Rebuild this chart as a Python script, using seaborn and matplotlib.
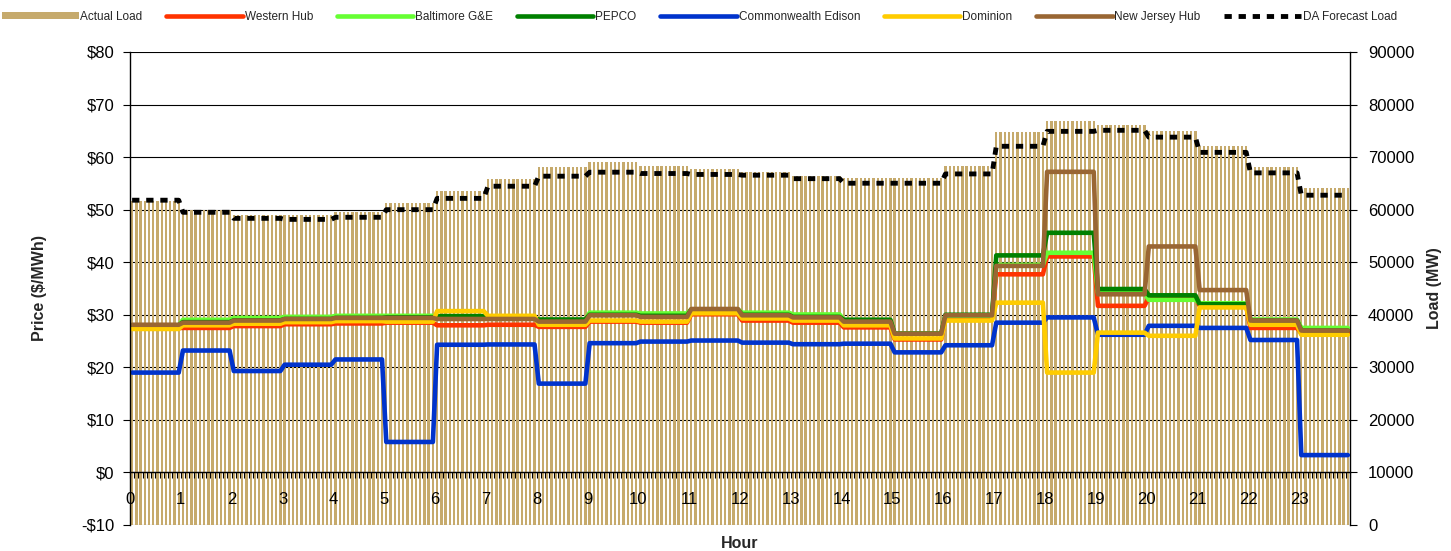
import matplotlib

matplotlib.use("Agg")
import matplotlib.pyplot as plt  # noqa: E402
import numpy as np  # noqa: E402
import seaborn as sns  # noqa: E402
from matplotlib.ticker import FuncFormatter, MultipleLocator  # noqa: E402

# hourly values (each hour is 12 five-minute intervals)
HOURS = list(range(24))
actual_load = [61600, 60000, 59050, 59050, 59600, 61340, 63630, 65860, 68200, 68980, 68400, 67830,
               67260, 66500, 66050, 66050, 68400, 74800, 76950, 76200, 75050, 72200, 68200, 64100]
da_forecast = [61800, 59500, 58350, 58150, 58550, 60000, 62150, 64460, 66370, 67130, 66880, 66700,
               66560, 65900, 65030, 65030, 66800, 72060, 74900, 75100, 73800, 70900, 67000, 62750]
western_hub = [27.5, 27.5, 27.85, 28.2, 28.35, 28.5, 28.0, 28.1, 27.7, 28.7, 28.5, 30.1,
               28.9, 28.5, 27.6, 25.3, 29.4, 37.7, 41.1, 31.7, 33.3, 31.7, 27.5, 26.5]
baltimore = [28.0, 29.05, 29.4, 29.6, 29.8, 29.8, 29.6, 29.4, 29.0, 30.4, 30.25, 31.0,
             30.4, 30.06, 29.0, 26.4, 29.8, 39.5, 41.8, 34.2, 32.85, 32.2, 29.1, 27.5]
pepco = [28.0, 28.6, 28.95, 29.2, 29.4, 29.5, 29.75, 29.3, 29.1, 30.0, 29.8, 31.0,
         30.0, 29.6, 29.05, 26.4, 30.0, 41.3, 45.6, 34.9, 33.7, 32.0, 28.9, 27.0]
comed = [19.0, 23.2, 19.3, 20.5, 21.5, 5.8, 24.3, 24.35, 16.9, 24.6, 24.9, 25.1,
         24.7, 24.4, 24.5, 22.85, 24.2, 28.5, 29.5, 26.2, 27.9, 27.5, 25.2, 3.3]
dominion = [27.3, 28.0, 28.3, 28.6, 28.8, 28.7, 30.7, 29.8, 28.1, 28.9, 28.7, 30.3,
            29.3, 28.9, 28.0, 25.5, 28.9, 32.3, 19.0, 26.6, 26.0, 31.4, 28.1, 26.2]
nj_hub = [28.1, 28.5, 28.9, 29.2, 29.4, 29.4, 29.2, 29.2, 28.7, 29.9, 29.6, 31.1,
          29.9, 29.5, 28.7, 26.4, 29.9, 39.3, 57.2, 33.9, 43.0, 34.7, 28.9, 27.0]

PRICE_SERIES = [
    ("Western Hub", western_hub, "#FF3300"),
    ("Baltimore G&E", baltimore, "#66FF33"),
    ("PEPCO", pepco, "#008000"),
    ("Commonwealth Edison", comed, "#0033CC"),
    ("Dominion", dominion, "#FFCC00"),
    ("New Jersey Hub", nj_hub, "#996633"),
]
LOAD_COLOR = "#C6AA6C"
PER_HOUR = 12

sns.set_theme(style="white")
plt.rcParams["font.family"] = ["Liberation Sans", "DejaVu Sans"]

# five-minute interval centres, in hours
t = np.arange(len(HOURS) * PER_HOUR) / PER_HOUR + 0.5 / PER_HOUR


def expand(vals):
    return np.repeat(np.asarray(vals, dtype=float), PER_HOUR)


fig = plt.figure(figsize=(14.51, 5.51), dpi=100)
ax = fig.add_axes([130 / 1451, 1 - 525 / 551, 1220 / 1451, 473 / 551])
ax2 = ax.twinx()
ax.set_zorder(ax2.get_zorder() + 1)
ax.patch.set_visible(False)

# load axis (behind): bars + DA forecast + gridlines
bars = ax2.bar(t, expand(actual_load), width=0.55 / PER_HOUR, color=LOAD_COLOR,
               linewidth=0, label="Actual Load")
sns.lineplot(x=t, y=expand(da_forecast), ax=ax2, color="black", lw=3.5,
             linestyle=(0, (1.5, 1.4)), estimator=None, legend=False)
ax2.set_ylim(0, 90000)
ax2.yaxis.set_major_locator(MultipleLocator(10000))
ax2.set_axisbelow(True)
ax2.yaxis.grid(True, color="black", lw=0.8)
ax2.set_ylabel("Load (MW)", fontsize=11.5, fontweight="bold")
ax2.yaxis.set_label_coords(1.063, 0.5)
ax2.tick_params(axis="y", right=True, direction="out", length=5, width=0.8,
                labelsize=12, pad=8, colors="black")

# price axis (front): hub price lines
for name, vals, color in PRICE_SERIES:
    sns.lineplot(x=t, y=expand(vals), ax=ax, color=color, lw=3.3,
                 estimator=None, legend=False)
ax.set_xlim(0, 24)
ax.set_ylim(-10, 80)
ax.yaxis.set_major_locator(MultipleLocator(10))
ax.yaxis.set_major_formatter(FuncFormatter(lambda v, _: f"${v:.0f}" if v >= 0 else f"-${-v:.0f}"))
ax.set_xticks(HOURS)
ax.set_xticklabels([str(h) for h in HOURS])
ax.xaxis.set_minor_locator(MultipleLocator(1 / PER_HOUR))
ax.tick_params(axis="y", left=True, direction="out", length=5, width=0.8,
               labelsize=12, pad=6, colors="black")
ax.tick_params(axis="x", which="both", bottom=True, direction="out", length=4,
               width=0.8, colors="black")
ax.tick_params(axis="x", which="major", labelsize=12, pad=10)
ax.set_ylabel("Price ($/MWh)", fontsize=11.5, fontweight="bold")
ax.yaxis.set_label_coords(-0.068, 0.5)
ax.set_xlabel("Hour", fontsize=11.5, fontweight="bold")
ax.xaxis.set_label_coords(0.5, -0.023)

ax.spines["bottom"].set_position(("data", 0))
for s in ("top", "right"):
    ax.spines[s].set_visible(False)
for s in ("left", "bottom", "top"):
    ax2.spines[s].set_visible(False)
ax.spines["left"].set_color("black")
ax.spines["bottom"].set_color("black")
ax2.spines["right"].set_color("black")
ax.spines["left"].set_linewidth(1)
ax.spines["bottom"].set_linewidth(1)
ax2.spines["right"].set_linewidth(1)

handles = [bars] + list(ax.lines) + [ax2.lines[0]]
labels = ["Actual Load"] + [n for n, _, _ in PRICE_SERIES] + ["DA Forecast Load"]
fig.legend(handles, labels, loc="center", bbox_to_anchor=(0.482, 1 - 17 / 551), ncol=8,
           frameon=False, fontsize=8.5, handlelength=6.5, handleheight=0.5,
           handletextpad=0.15, columnspacing=2.0)

fig.savefig("out.png", dpi=100)
